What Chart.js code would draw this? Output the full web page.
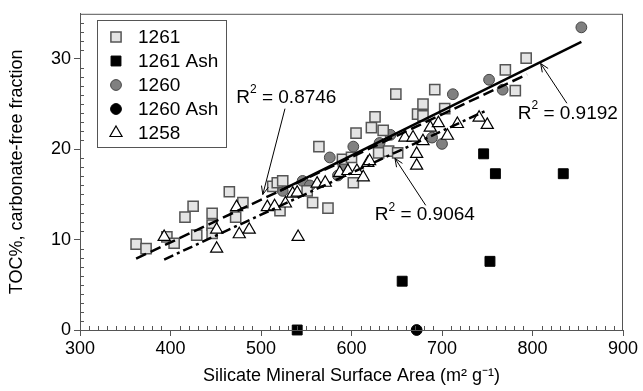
<!DOCTYPE html>
<html><head><meta charset="utf-8">
<script src="https://cdn.jsdelivr.net/npm/chart.js@4"></script>
<style>html,body{margin:0;background:#fff}#wrap{width:643px;height:391px}</style>
</head><body><div id="wrap"><canvas id="c"></canvas></div>
<script>
const xTicks = [300,400,500,600,700,800,900];
const yTicks = [0,10,20,30];

// Site 1261
const s1261X = [362,373,396,404,416,425,429,446,446,446,465,472,480,513,518,521,524,551,557,574,564,590,600,602,605,622,626,630,635,641,649,651,673,679,679,692,703,770,781,793];
const s1261Y = [9.5,9.0,10.3,9.6,12.5,13.7,10.5,12.9,11.6,10.7,15.3,12.5,14.1,15.9,16.3,13.2,16.5,15.4,14.1,13.5,20.3,18.9,19.1,16.3,21.8,22.4,23.6,19.6,22.1,19.8,26.1,19.6,23.9,25.0,23.7,26.6,24.5,28.8,26.5,30.1];
// 1261 Ash
const ash1261X = [540,656,746,753,759,834];
const ash1261Y = [0,5.4,19.5,7.6,17.3,17.3];
// Site 1260
const s1260X = [524,546,554,576,585,591,602,631,643,689,700,712,752,767,854];
const s1260Y = [15.4,16.5,16.0,19.1,17.1,18.2,20.3,20.7,21.6,21.3,20.6,26.1,27.7,26.6,33.5];
// 1260 Ash
const ash1260X = [672];
const ash1260Y = [0];
// Site 1258
const s1258X = [393,451,451,473,476,487,507,515,527,535,541,540,562,571,587,596,606,613,618,620,659,668,679,672,672,687,696,706,717,741,750];
const s1258Y = [10.3,11.1,9.0,13.6,10.6,11.1,13.6,13.7,14.0,15.1,10.3,15.2,16.2,16.3,17.4,17.6,17.6,16.9,18.5,18.7,21.3,21.3,20.9,19.5,18.2,22.4,22.9,21.5,22.8,23.5,22.7];

// regression line ends
const fit1261X = [362,794], fit1261Y = [7.9,28.3];
const fit1260X = [521,854], fit1260Y = [15.4,31.9];
const fit1258X = [393,749], fit1258Y = [7.8,24.3];

// R² labels: text centre and arrow start/tip, data units
const r2Text = ['0.8746','0.9192','0.9064'];
const r2Pos  = [[528,25.7],[839,23.9],[681,12.7]];
const r2From = [[526.5,24.5],[838,25.1],[682,13.8]];
const r2Tip  = [[502,15.0],[809,29.5],[648,19.0]];

const zip = (xs, ys) => xs.map((x, i) => ({x, y: ys[i]}));
const FONT = "'Liberation Sans', Arial, Helvetica, sans-serif";

const pts = (label, xs, ys, style, r, bg, border, bw) => ({
  label, data: zip(xs, ys), pointStyle: style, pointRadius: r, pointHoverRadius: r,
  backgroundColor: bg, borderColor: border, pointBorderWidth: bw, showLine: false, clip: false
});
const fit = (xs, ys, dash) => ({
  label: '', data: zip(xs, ys), showLine: true, pointRadius: 0, borderColor: '#000',
  borderWidth: 2.5, borderDash: dash, fill: false
});

const datasets = [
  fit(fit1261X, fit1261Y, [11, 5]),
  fit(fit1260X, fit1260Y, []),
  fit(fit1258X, fit1258Y, [10, 4, 3, 4]),
  pts('1258', s1258X, s1258Y, 'triangle', 7, '#fff', '#000', 1.2),
  pts('1261', s1261X, s1261Y, 'rect', 7.2, '#e4e4e4', '#555', 1.5),
  pts('1260', s1260X, s1260Y, 'circle', 5.4, '#808080', '#444', 1),
  pts('1261 Ash', ash1261X, ash1261Y, 'rect', 7, '#000', '#000', 1),
  pts('1260 Ash', ash1260X, ash1260Y, 'circle', 5.4, '#000', '#000', 1)
];
const legendOrder = ['1261','1261 Ash','1260','1260 Ash','1258'];

const extras = {
  id: 'extras',
  afterDraw(chart) {
    const {ctx, chartArea: a, scales: {x, y}} = chart;
    ctx.save();
    // frame
    ctx.strokeStyle = '#555'; ctx.lineWidth = 1;
    ctx.strokeRect(a.left + 0.5, a.top + 0.5, a.right - a.left - 1, a.bottom - a.top);
    // minor ticks (inside)
    ctx.beginPath();
    for (let v = 310; v < 900; v += 10) {
      if (v % 100 === 0) continue;
      const px = Math.round(x.getPixelForValue(v)) + 0.5;
      ctx.moveTo(px, a.bottom); ctx.lineTo(px, a.bottom - 4);
    }
    for (let v = 1; v < 35; v += 1) {
      if (v % 10 === 0) continue;
      const py = Math.round(y.getPixelForValue(v)) + 0.5;
      ctx.moveTo(a.left, py); ctx.lineTo(a.left + 4, py);
    }
    ctx.stroke();

    // R² annotations
    ctx.fillStyle = '#000'; ctx.strokeStyle = '#000';
    r2Text.forEach((t, i) => {
      const cx = x.getPixelForValue(r2Pos[i][0]), cy = y.getPixelForValue(r2Pos[i][1]);
      ctx.font = '19px ' + FONT;
      const wR = ctx.measureText('R').width;
      const rest = ' = ' + t;
      const wRest = ctx.measureText(rest).width;
      ctx.font = '12px ' + FONT;
      const w2 = ctx.measureText('2').width;
      const total = wR + w2 + wRest;
      let lx = cx - total / 2;
      ctx.textBaseline = 'middle'; ctx.textAlign = 'left';
      ctx.font = '19px ' + FONT;
      ctx.fillText('R', lx, cy);
      ctx.font = '12px ' + FONT;
      ctx.fillText('2', lx + wR, cy - 8);
      ctx.font = '19px ' + FONT;
      ctx.fillText(rest, lx + wR + w2, cy);
      // arrow
      const x0 = x.getPixelForValue(r2From[i][0]), y0 = y.getPixelForValue(r2From[i][1]);
      const x1 = x.getPixelForValue(r2Tip[i][0]), y1 = y.getPixelForValue(r2Tip[i][1]);
      ctx.lineWidth = 1;
      ctx.beginPath(); ctx.moveTo(x0, y0); ctx.lineTo(x1, y1); ctx.stroke();
      const ang = Math.atan2(y1 - y0, x1 - x0), L = 9, sp = 0.4;
      ctx.beginPath();
      ctx.moveTo(x1 - L * Math.cos(ang - sp), y1 - L * Math.sin(ang - sp));
      ctx.lineTo(x1, y1);
      ctx.lineTo(x1 - L * Math.cos(ang + sp), y1 - L * Math.sin(ang + sp));
      ctx.stroke();
    });

    // legend box
    const bx = 97, by = 20, bw = 129, bh = 127;
    ctx.fillStyle = '#fff'; ctx.fillRect(bx, by, bw, bh);
    ctx.strokeStyle = '#555'; ctx.lineWidth = 1;
    ctx.strokeRect(bx + 0.5, by + 0.5, bw, bh);
    legendOrder.forEach((name, i) => {
      const ds = chart.data.datasets.find(d => d.label === name);
      const ly = 37 + i * 24;
      ctx.fillStyle = ds.backgroundColor; ctx.strokeStyle = ds.borderColor;
      ctx.lineWidth = ds.pointBorderWidth;
      Chart.helpers.drawPoint(ctx, {pointStyle: ds.pointStyle, radius: ds.pointRadius, rotation: 0, borderWidth: ds.pointBorderWidth}, 116, ly);
      ctx.fillStyle = '#000'; ctx.font = '19px ' + FONT;
      ctx.textAlign = 'left'; ctx.textBaseline = 'middle';
      ctx.fillText(name, 138, ly + 1);
    });
    ctx.restore();
  }
};

new Chart(document.getElementById('c'), {
  type: 'scatter',
  data: {datasets},
  options: {
    responsive: true, maintainAspectRatio: false, animation: false,
    layout: {padding: {top: 13, right: 20, left: 0, bottom: 0}},
    plugins: {legend: {display: false}, tooltip: {enabled: false}},
    scales: {
      x: {
        min: 300, max: 900,
        afterBuildTicks: s => { s.ticks = xTicks.map(v => ({value: v})); },
        afterFit: s => { s.height = 61; },
        grid: {drawOnChartArea: false, tickLength: 6, color: '#555'},
        border: {color: '#555'},
        ticks: {color: '#000', font: {family: FONT, size: 18}, padding: 2, maxRotation: 0},
        title: {display: true, text: 'Silicate Mineral Surface Area (m² g⁻¹)', color: '#000', font: {family: FONT, size: 18}, padding: {top: 0}}
      },
      y: {
        min: 0, max: 35,
        afterBuildTicks: s => { s.ticks = yTicks.map(v => ({value: v})); },
        afterFit: s => { s.width = 80; },
        grid: {drawOnChartArea: false, tickLength: 6, color: '#555'},
        border: {color: '#555'},
        ticks: {color: '#000', font: {family: FONT, size: 18}, padding: 3},
        title: {display: true, text: 'TOC%, carbonate-free fraction', color: '#000', font: {family: FONT, size: 18}, padding: {bottom: 0, top: 6}}
      }
    }
  },
  plugins: [extras]
});
</script>
</body></html>
